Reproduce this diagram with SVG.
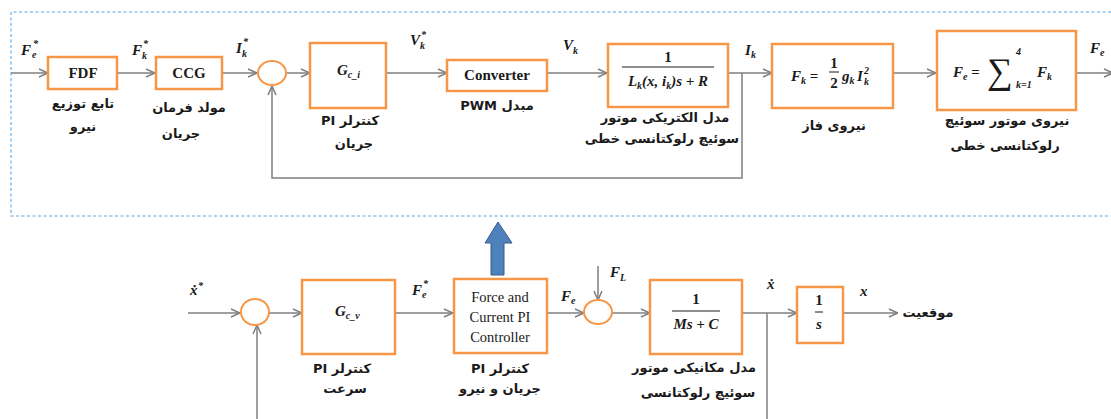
<svg xmlns="http://www.w3.org/2000/svg" width="1111" height="419" viewBox="0 0 1111 419">
<style>
.bx{fill:#fff;stroke:#f79646;stroke-width:2.5}
.ln{fill:none;stroke:#7f7f7f;stroke-width:1.5}
.m{font-family:"Liberation Serif",serif;font-style:italic;font-weight:bold;font-size:15px;fill:#1a1a1a}
.s{font-size:10px}
.t{font-family:"Liberation Serif",serif;font-weight:bold;font-size:15px;fill:#1a1a1a;text-anchor:middle}
.r{font-family:"Liberation Serif",serif;font-size:14.5px;fill:#1a1a1a;text-anchor:middle}
.fa{font-family:"DejaVu Sans",sans-serif;font-weight:bold;font-size:13px;fill:#1a1a1a;text-anchor:middle}
.dot{fill:none;stroke:#8cc4f2;stroke-width:1.6;stroke-dasharray:3 2.5}
</style>
<defs>
<marker id="a" viewBox="0 0 10 10" refX="10" refY="5" markerWidth="10" markerHeight="10" markerUnits="userSpaceOnUse" orient="auto">
<path d="M1,1 L10,5 L1,9" fill="none" stroke="#7f7f7f" stroke-width="1.5"/>
</marker>
</defs>
<rect width="1111" height="419" fill="#fff"/>
<path class="dot" d="M1111,12 H11 V216 H1111"/>

<g id="connectors">
<line class="ln" x1="11" y1="73" x2="48" y2="73" marker-end="url(#a)"/>
<line class="ln" x1="117" y1="73" x2="155" y2="73" marker-end="url(#a)"/>
<line class="ln" x1="222" y1="73" x2="257" y2="73" marker-end="url(#a)"/>
<line class="ln" x1="287" y1="73" x2="310" y2="73" marker-end="url(#a)"/>
<line class="ln" x1="386" y1="73" x2="447" y2="73" marker-end="url(#a)"/>
<line class="ln" x1="547" y1="73" x2="607" y2="73" marker-end="url(#a)"/>
<line class="ln" x1="728" y1="73" x2="772" y2="73" marker-end="url(#a)"/>
<polyline class="ln" points="742,73 742,178 272,178 272,86" marker-end="url(#a)"/>
<line class="ln" x1="893" y1="73" x2="936" y2="73" marker-end="url(#a)"/>
<line class="ln" x1="1076" y1="73" x2="1113" y2="73" marker-end="url(#a)"/>

<line class="ln" x1="188" y1="313" x2="240" y2="313" marker-end="url(#a)"/>
<line class="ln" x1="257" y1="419" x2="257" y2="325" marker-end="url(#a)"/>
<line class="ln" x1="269" y1="313" x2="302" y2="313" marker-end="url(#a)"/>
<line class="ln" x1="395" y1="313" x2="453" y2="313" marker-end="url(#a)"/>
<line class="ln" x1="547" y1="313" x2="584" y2="313" marker-end="url(#a)"/>
<line class="ln" x1="598" y1="266" x2="598" y2="300" marker-end="url(#a)"/>
<line class="ln" x1="612" y1="313" x2="650" y2="313" marker-end="url(#a)"/>
<line class="ln" x1="742" y1="313" x2="797" y2="313" marker-end="url(#a)"/>
<line class="ln" x1="767" y1="313" x2="767" y2="419"/>
<line class="ln" x1="843" y1="313" x2="898" y2="313" marker-end="url(#a)"/>
<polygon points="491,275 491,243 485,243 498,222 512,243 504,243 504,275" fill="#4f81bd" stroke="#385d8a" stroke-width="1"/>
</g>

<g id="labels">
<text class="m" x="21" y="55">F</text><text class="m s" x="32" y="58">e</text><text class="m s" x="33" y="47">*</text>
<text class="m" x="132" y="55">F</text><text class="m s" x="142" y="59">k</text><text class="m s" x="143" y="47">*</text>
<text class="m" x="236" y="53">I</text><text class="m s" x="242" y="57">k</text><text class="m s" x="243" y="45">*</text>
<text class="m" x="410" y="45">V</text><text class="m s" x="420" y="49">k</text><text class="m s" x="421" y="38">*</text>
<text class="m" x="563" y="50">V</text><text class="m s" x="573" y="54">k</text>
<text class="m" x="745" y="55">I</text><text class="m s" x="751" y="58">k</text>
<text class="m" x="1090" y="53">F</text><text class="m s" x="1100" y="56">e</text>
<text class="m" x="190" y="295">x&#775;</text><text class="m s" x="198" y="289">*</text>
<text class="m" x="412" y="295">F</text><text class="m s" x="422" y="298">e</text><text class="m s" x="423" y="287">*</text>
<text class="m" x="561" y="301">F</text><text class="m s" x="571" y="304">e</text>
<text class="m" x="610" y="277">F</text><text class="m s" x="620" y="281">L</text>
<text class="m" x="767" y="289">x&#775;</text>
<text class="m" x="860" y="296">x</text>
<text class="fa" x="928" y="317" direction="rtl">موقعیت</text>
</g>

<g id="n-fdf">
<rect class="bx" x="48" y="57" width="69" height="32"/>
<text class="t" x="83" y="78">FDF</text>
<text class="fa" x="83" y="108" direction="rtl">تابع توزیع</text>
<text class="fa" x="83" y="131" direction="rtl">نیرو</text>
</g>
<g id="n-ccg">
<rect class="bx" x="156" y="57" width="66" height="32"/>
<text class="t" x="189" y="78">CCG</text>
<text class="fa" x="189" y="112" direction="rtl">مولد فرمان</text>
<text class="fa" x="181" y="138" direction="rtl">جریان</text>
</g>
<g id="n-sum1">
<ellipse cx="272" cy="73" rx="14" ry="12" fill="#fff" stroke="#f79646" stroke-width="2"/>
</g>
<g id="n-gci">
<rect class="bx" x="310" y="43" width="76" height="65"/>
<text class="m" x="337" y="75">G<tspan class="s" dy="3">c_i</tspan></text>
<text class="fa" x="350" y="125" direction="rtl">کنترلر PI</text>
<text class="fa" x="354" y="148" direction="rtl">جریان</text>
</g>
<g id="n-conv">
<rect class="bx" x="447" y="60" width="100" height="31"/>
<text class="t" x="497" y="80">Converter</text>
<text class="fa" x="497" y="110" direction="rtl">مبدل  PWM</text>
</g>
<g id="n-elec">
<rect class="bx" x="608" y="44" width="120" height="63"/>
<text class="t" x="668" y="62">1</text>
<line x1="622" y1="67" x2="714" y2="67" stroke="#1a1a1a" stroke-width="1"/>
<text class="m" x="668" y="86" text-anchor="middle">L<tspan class="s" dy="3">k</tspan><tspan dy="-3">(x, i</tspan><tspan class="s" dy="3">k</tspan><tspan dy="-3">)s + R</tspan></text>
<text class="fa" x="665" y="122" direction="rtl">مدل الکتریکی موتور</text>
<text class="fa" x="662" y="143" direction="rtl">سوئیچ رلوکتانسی خطی</text>
</g>
<g id="n-fk">
<rect class="bx" x="772" y="44" width="121" height="64"/>
<text class="m" x="791" y="81">F<tspan class="s" dy="3">k</tspan><tspan dy="-3" font-style="normal"> =</tspan></text>
<text class="t" x="834" y="68">1</text>
<line x1="829" y1="72" x2="839" y2="72" stroke="#1a1a1a" stroke-width="1"/>
<text class="t" x="834" y="88">2</text>
<text class="m" x="842" y="81">g<tspan class="s" dy="3">k</tspan></text>
<text class="m" x="857" y="81">I</text>
<text class="m s" x="864" y="74">2</text><text class="m s" x="864" y="85">k</text>
<text class="fa" x="834" y="130" direction="rtl">نیروی فاز</text>
</g>
<g id="n-fe">
<rect class="bx" x="937" y="31" width="139" height="79"/>
<text class="m" x="953" y="77">F<tspan class="s" dy="3">e</tspan><tspan dy="-3" font-style="normal"> =</tspan></text>
<text x="987" y="83" font-family="Liberation Serif,serif" font-size="36" fill="#1a1a1a">∑</text>
<text class="m s" x="1016" y="55">4</text>
<text class="m s" x="1016" y="88">k=1</text>
<text class="m" x="1037" y="77">F<tspan class="s" dy="3">k</tspan></text>
<text class="fa" x="1007" y="125" direction="rtl">نیروی موتور سوئیچ</text>
<text class="fa" x="1005" y="150" direction="rtl">رلوکتانسی خطی</text>
</g>

<g id="n-sum2">
<ellipse cx="255" cy="312" rx="14" ry="13" fill="#fff" stroke="#f79646" stroke-width="2"/>
</g>
<g id="n-gcv">
<rect class="bx" x="302" y="280" width="93" height="74"/>
<text class="m" x="335" y="316">G<tspan class="s" dy="3">c_v</tspan></text>
<text class="fa" x="342" y="373" direction="rtl">کنترلر PI</text>
<text class="fa" x="345" y="393" direction="rtl">سرعت</text>
</g>
<g id="n-force">
<rect class="bx" x="454" y="279" width="93" height="74"/>
<text class="r" x="500" y="302">Force and</text>
<text class="r" x="500" y="322">Current PI</text>
<text class="r" x="500" y="342">Controller</text>
<text class="fa" x="500" y="373" direction="rtl">کنترلر PI</text>
<text class="fa" x="500" y="393" direction="rtl">جریان و نیرو</text>
</g>
<g id="n-sum3">
<ellipse cx="598" cy="312" rx="14" ry="12" fill="#fff" stroke="#f79646" stroke-width="2"/>
</g>
<g id="n-mech">
<rect class="bx" x="650" y="280" width="92" height="74"/>
<text class="t" x="696" y="304">1</text>
<line x1="672" y1="311" x2="720" y2="311" stroke="#1a1a1a" stroke-width="1"/>
<text class="m" x="696" y="329" text-anchor="middle">Ms + C</text>
<text class="fa" x="694" y="372" direction="rtl">مدل مکانیکی موتور</text>
<text class="fa" x="698" y="397" direction="rtl">سوئیچ رلوکتانسی</text>
</g>
<g id="n-int">
<rect class="bx" x="797" y="287" width="46" height="56"/>
<text class="t" x="819" y="305">1</text>
<line x1="815" y1="312" x2="823" y2="312" stroke="#1a1a1a" stroke-width="1"/>
<text class="m" x="819" y="329" text-anchor="middle">s</text>
</g>
</svg>
